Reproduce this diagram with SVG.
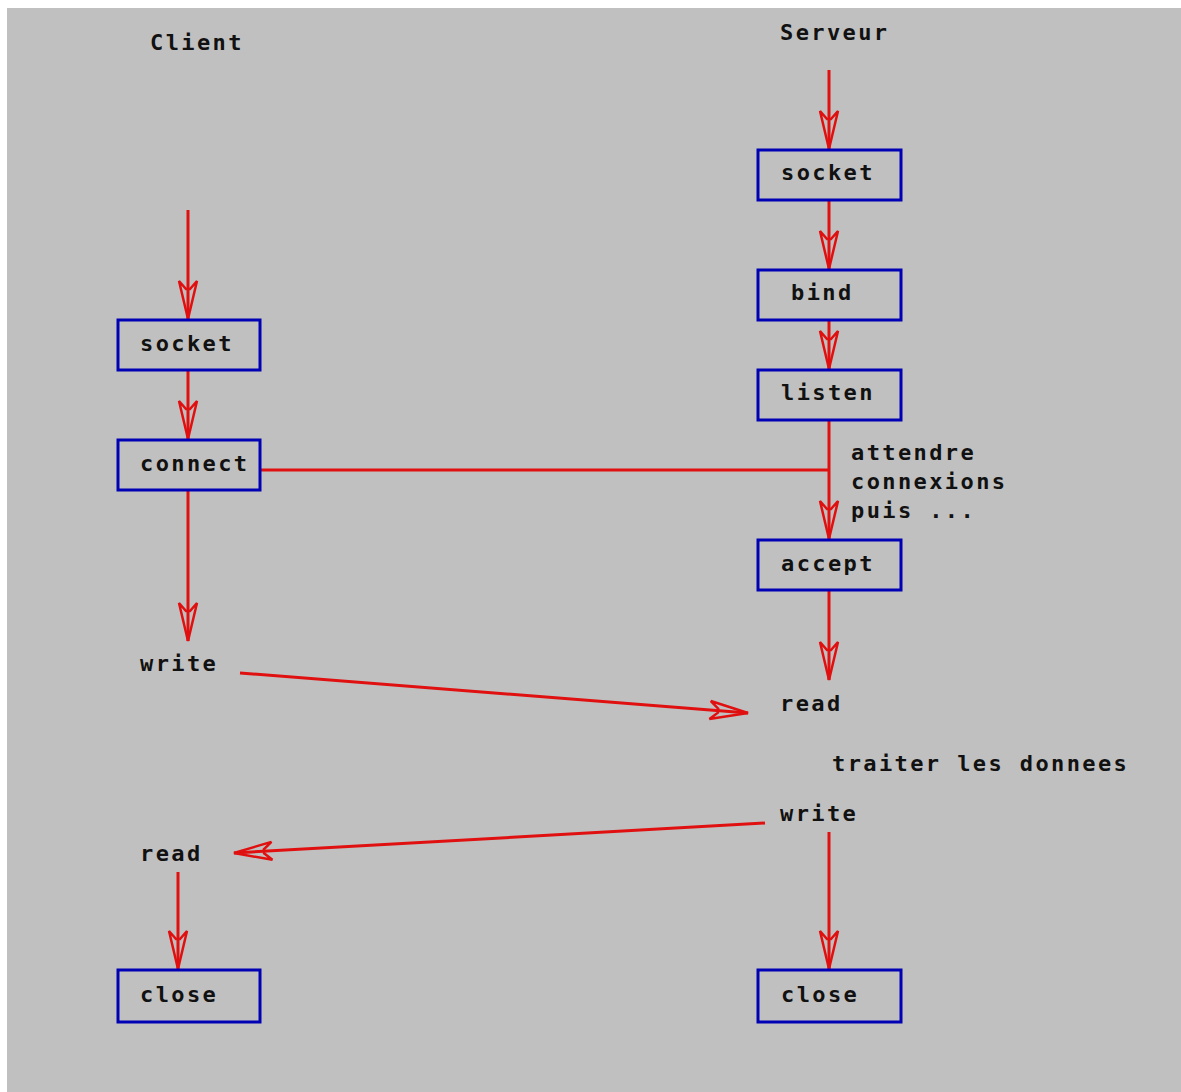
<svg xmlns="http://www.w3.org/2000/svg" width="1181" height="1092" viewBox="0 0 1181 1092">
  <style>
    .box { fill: #c0c0c0; stroke: #0000b4; stroke-width: 3; }
    .lbl { font-family: "DejaVu Sans Mono", "Liberation Mono", monospace; font-weight: bold; font-size: 22px; letter-spacing: 2.4px; fill: #111; }
    .flow { stroke: #e01010; stroke-width: 3; fill: none; }
    .head { stroke: #e01010; stroke-width: 2.5; fill: none; }
  </style>
  <defs>
    <marker id="arrow" markerUnits="userSpaceOnUse" viewBox="-40 -12 42 24" refX="0" refY="0" markerWidth="42" markerHeight="24" orient="auto" overflow="visible">
      <path class="head" d="M0,0 L-38,-9 L-30,-2 L-30,2 L-38,9 Z"/>
    </marker>
  </defs>

  <!-- canvas -->
  <rect x="0" y="0" width="1181" height="1092" fill="#ffffff"/>
  <rect x="7" y="8" width="1174" height="1084" fill="#c0c0c0"/>

  <!-- column titles -->
  <text class="lbl" x="150" y="50">Client</text>
  <text class="lbl" x="780" y="40">Serveur</text>

  <!-- connectors -->
  <g id="connectors">
    <!-- client side -->
    <line class="flow" x1="188" y1="210" x2="188" y2="319" marker-end="url(#arrow)"/>
    <line class="flow" x1="188" y1="370" x2="188" y2="439" marker-end="url(#arrow)"/>
    <line class="flow" x1="188" y1="490" x2="188" y2="641" marker-end="url(#arrow)"/>
    <line class="flow" x1="178" y1="872" x2="178" y2="969" marker-end="url(#arrow)"/>
    <!-- server side -->
    <line class="flow" x1="829" y1="70" x2="829" y2="149" marker-end="url(#arrow)"/>
    <line class="flow" x1="829" y1="200" x2="829" y2="269" marker-end="url(#arrow)"/>
    <line class="flow" x1="829" y1="320" x2="829" y2="369" marker-end="url(#arrow)"/>
    <line class="flow" x1="829" y1="420" x2="829" y2="539" marker-end="url(#arrow)"/>
    <line class="flow" x1="829" y1="590" x2="829" y2="680" marker-end="url(#arrow)"/>
    <line class="flow" x1="829" y1="832" x2="829" y2="969" marker-end="url(#arrow)"/>
    <!-- connection request -->
    <line class="flow" x1="260" y1="470" x2="829" y2="470"/>
    <!-- data exchange -->
    <line class="flow" x1="240" y1="673" x2="748" y2="713" marker-end="url(#arrow)"/>
    <line class="flow" x1="765" y1="823" x2="234" y2="853" marker-end="url(#arrow)"/>
  </g>

  <!-- client nodes -->
  <g id="client-socket">
    <rect class="box" x="118" y="320" width="142" height="50"/>
    <text class="lbl" x="140" y="351">socket</text>
  </g>
  <g id="client-connect">
    <rect class="box" x="118" y="440" width="142" height="50"/>
    <text class="lbl" x="140" y="471">connect</text>
  </g>
  <g id="client-write">
    <text class="lbl" x="140" y="671">write</text>
  </g>
  <g id="client-read">
    <text class="lbl" x="140" y="861">read</text>
  </g>
  <g id="client-close">
    <rect class="box" x="118" y="970" width="142" height="52"/>
    <text class="lbl" x="140" y="1002">close</text>
  </g>

  <!-- server nodes -->
  <g id="server-socket">
    <rect class="box" x="758" y="150" width="143" height="50"/>
    <text class="lbl" x="781" y="180">socket</text>
  </g>
  <g id="server-bind">
    <rect class="box" x="758" y="270" width="143" height="50"/>
    <text class="lbl" x="791" y="300">bind</text>
  </g>
  <g id="server-listen">
    <rect class="box" x="758" y="370" width="143" height="50"/>
    <text class="lbl" x="781" y="400">listen</text>
  </g>
  <g id="server-wait-note">
    <text class="lbl" x="851" y="460">attendre</text>
    <text class="lbl" x="851" y="489">connexions</text>
    <text class="lbl" x="851" y="518">puis ...</text>
  </g>
  <g id="server-accept">
    <rect class="box" x="758" y="540" width="143" height="50"/>
    <text class="lbl" x="781" y="571">accept</text>
  </g>
  <g id="server-read">
    <text class="lbl" x="780" y="711">read</text>
  </g>
  <g id="server-process-note">
    <text class="lbl" x="832" y="771">traiter les donnees</text>
  </g>
  <g id="server-write">
    <text class="lbl" x="780" y="821">write</text>
  </g>
  <g id="server-close">
    <rect class="box" x="758" y="970" width="143" height="52"/>
    <text class="lbl" x="781" y="1002">close</text>
  </g>
</svg>
